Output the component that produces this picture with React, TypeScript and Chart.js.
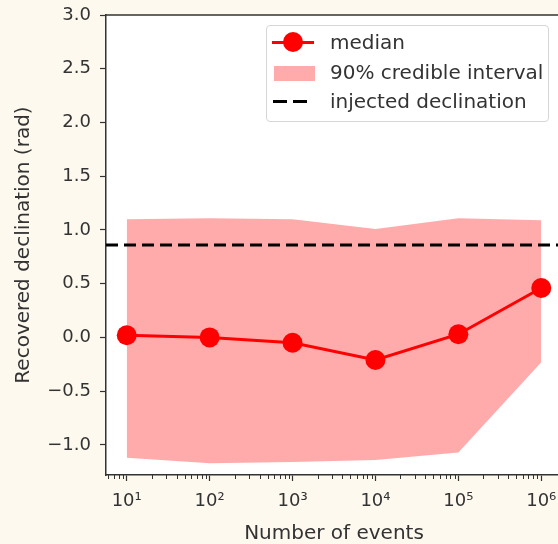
import React, { useEffect, useRef } from "react";
import { Chart, registerables } from "chart.js";

Chart.register(...registerables);

// ---- data ----
const events = [1e1, 1e2, 1e3, 1e4, 1e5, 1e6];
const xTickLabels = ["10¹", "10²", "10³", "10⁴", "10⁵", "10⁶"];
const medianDec = [0.02, 0.0, -0.05, -0.21, 0.03, 0.46];
const upperDec = [1.1, 1.11, 1.1, 1.01, 1.11, 1.09];
const lowerDec = [-1.12, -1.17, -1.16, -1.14, -1.07, -0.23];
const injectedDec = 0.86;
const yTicks = [-1.0, -0.5, 0.0, 0.5, 1.0, 1.5, 2.0, 2.5, 3.0];
const yMin = -1.28;
const yMax = 3.0;
const xMin = Math.pow(10, 0.75);
const xMax = Math.pow(10, 6.25);

const FONT = "'DejaVu Sans', sans-serif";
const TEXT = "#333333";
const AXIS = "#333333";
const CREAM = "#fdf9ef";
const FILL = "rgba(255, 0, 0, 0.33)";

const pts = (ys: number[]) => events.map((x, i) => ({ x, y: ys[i] }));

const decorPlugin = {
  id: "decor",
  beforeDraw(chart: any) {
    const { ctx, chartArea: a } = chart;
    ctx.save();
    ctx.fillStyle = CREAM;
    ctx.fillRect(0, 0, chart.width, chart.height);
    ctx.fillStyle = "#ffffff";
    ctx.fillRect(a.left, a.top, a.right - a.left, a.bottom - a.top);
    ctx.restore();
  },
  afterDatasetsDraw(chart: any) {
    const { ctx, chartArea: a, scales } = chart;
    const y = scales.y.getPixelForValue(injectedDec);
    ctx.save();
    ctx.beginPath();
    ctx.rect(a.left, a.top, a.right - a.left, a.bottom - a.top);
    ctx.clip();
    ctx.strokeStyle = "#000000";
    ctx.lineWidth = 3;
    ctx.setLineDash([12, 6]);
    ctx.beginPath();
    ctx.moveTo(a.left, y);
    ctx.lineTo(a.right, y);
    ctx.stroke();
    ctx.restore();
  },
  afterDraw(chart: any) {
    const { ctx, chartArea: a, scales } = chart;
    ctx.save();
    // minor ticks on the log axis
    ctx.strokeStyle = AXIS;
    ctx.lineWidth = 1;
    for (let n = 0; n <= 6; n++) {
      for (let k = 2; k <= 9; k++) {
        const v = k * Math.pow(10, n);
        if (v < xMin || v > xMax) continue;
        const px = Math.round(scales.x.getPixelForValue(v)) + 0.5;
        ctx.beginPath();
        ctx.moveTo(px, a.bottom);
        ctx.lineTo(px, a.bottom + 4);
        ctx.stroke();
      }
    }
    // top and right spines
    ctx.lineWidth = 1.5;
    ctx.beginPath();
    ctx.moveTo(a.left, a.top);
    ctx.lineTo(a.right, a.top);
    ctx.lineTo(a.right, a.bottom);
    ctx.stroke();
    ctx.restore();
  },
};

export default function App() {
  const ref = useRef<HTMLCanvasElement | null>(null);

  useEffect(() => {
    if (!ref.current) return;
    const chart = new Chart(ref.current, {
      type: "line",
      data: {
        datasets: [
          {
            label: "median",
            data: pts(medianDec),
            borderColor: "#ff0000",
            backgroundColor: "#ff0000",
            borderWidth: 3,
            pointRadius: 10,
            pointHoverRadius: 10,
            pointBorderWidth: 0,
            fill: false,
            order: 0,
          },
          {
            label: "90% credible interval",
            data: pts(upperDec),
            borderWidth: 0,
            borderColor: "rgba(0,0,0,0)",
            backgroundColor: FILL,
            pointRadius: 0,
            fill: "+1",
            order: 1,
          },
          {
            label: "lower",
            data: pts(lowerDec),
            borderWidth: 0,
            borderColor: "rgba(0,0,0,0)",
            pointRadius: 0,
            fill: false,
            order: 2,
          },
        ],
      },
      options: {
        responsive: false,
        animation: false,
        devicePixelRatio: 1,
        layout: { autoPadding: false, padding: { top: 15, left: 0, right: 0, bottom: 0 } },
        plugins: {
          legend: { display: false },
          tooltip: { enabled: false },
        },
        scales: {
          x: {
            type: "logarithmic",
            position: "bottom",
            min: xMin,
            max: xMax,
            afterBuildTicks: (s: any) => {
              s.ticks = events.map((v) => ({ value: v, major: true }));
            },
            afterFit: (s: any) => {
              s.height = 69;
              s.paddingLeft = 0;
              s.paddingRight = 0;
            },
            ticks: {
              autoSkip: false,
              maxRotation: 0,
              padding: 10,
              color: TEXT,
              font: { family: FONT, size: 18 },
              callback: (v: any) => {
                const i = events.indexOf(Number(v));
                return i >= 0 ? xTickLabels[i] : "";
              },
            },
            grid: {
              display: true,
              drawOnChartArea: false,
              drawTicks: true,
              tickLength: 6,
              color: AXIS,
              tickWidth: 1.2,
            },
            border: { display: true, color: AXIS, width: 1.5 },
            title: {
              display: true,
              text: "Number of events",
              color: TEXT,
              font: { family: FONT, size: 20 },
              padding: { top: 0, bottom: -2 },
            },
          },
          y: {
            type: "linear",
            min: yMin,
            max: yMax,
            afterBuildTicks: (s: any) => {
              s.ticks = yTicks.map((v) => ({ value: v }));
            },
            afterFit: (s: any) => {
              s.width = 106;
              s.paddingTop = 0;
              s.paddingBottom = 0;
            },
            ticks: {
              padding: 9,
              color: TEXT,
              font: { family: FONT, size: 18 },
              callback: (v: any) => {
                const n = Number(v);
                return (n < 0 ? "\u2212" : "") + Math.abs(n).toFixed(1);
              },
            },
            grid: {
              display: true,
              drawOnChartArea: false,
              drawTicks: true,
              tickLength: 6,
              color: AXIS,
              tickWidth: 1.2,
            },
            border: { display: true, color: AXIS, width: 1.5 },
            title: {
              display: true,
              text: "Recovered declination (rad)",
              color: TEXT,
              font: { family: FONT, size: 20 },
              padding: { top: 12, bottom: 0 },
            },
          },
        },
      },
      plugins: [decorPlugin],
    } as any);
    return () => chart.destroy();
  }, []);

  const textStyle: React.CSSProperties = {
    position: "absolute",
    left: 63,
    fontFamily: FONT,
    fontSize: 20,
    lineHeight: "24px",
    color: TEXT,
    whiteSpace: "nowrap",
  };

  return (
    <div
      style={{
        position: "fixed",
        left: 0,
        top: 0,
        width: 558,
        height: 544,
        overflow: "hidden",
        background: CREAM,
      }}
    >
      <canvas ref={ref} width={562} height={544} style={{ display: "block", width: 562, height: 544 }} />
      <div
        style={{
          position: "absolute",
          left: 266,
          top: 25,
          width: 281,
          height: 95,
          border: "1px solid #d6d6d6",
          borderRadius: 4,
          background: "rgba(255,255,255,0.8)",
        }}
      >
        {/* median */}
        <div style={{ position: "absolute", left: 5, top: 15, width: 42, height: 3, background: "#ff0000" }} />
        <div
          style={{
            position: "absolute",
            left: 16,
            top: 6,
            width: 20,
            height: 20,
            borderRadius: "50%",
            background: "#ff0000",
          }}
        />
        <div style={{ ...textStyle, top: 4 }}>median</div>
        {/* interval */}
        <div style={{ position: "absolute", left: 7, top: 40, width: 41, height: 15, background: FILL }} />
        <div style={{ ...textStyle, top: 34 }}>90% credible interval</div>
        {/* injected */}
        <div style={{ position: "absolute", left: 6, top: 74, width: 14, height: 3, background: "#000" }} />
        <div style={{ position: "absolute", left: 26, top: 74, width: 14, height: 3, background: "#000" }} />
        <div style={{ ...textStyle, top: 63 }}>injected declination</div>
      </div>
    </div>
  );
}
